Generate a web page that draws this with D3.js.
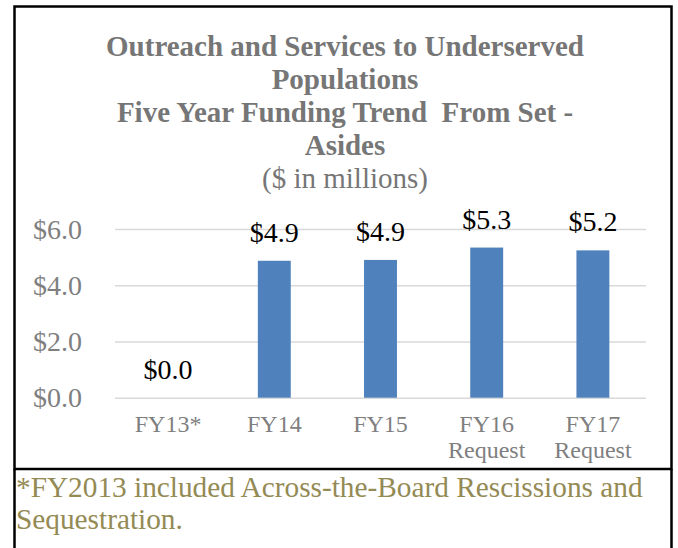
<!DOCTYPE html>
<html>
<head>
<meta charset="utf-8">
<script src="https://cdn.jsdelivr.net/npm/d3@7"></script>
<style>
  body { margin: 0; background: #fff; }
  svg { display: block; font-family: "Liberation Serif", "Times New Roman", serif; }
</style>
</head>
<body>
<svg></svg>
<script>
var width = 678;
var height = 548;

// data
var categories = ["FY13*", "FY14", "FY15", "FY16\nRequest", "FY17\nRequest"];
var values = [0, 4.87, 4.9, 5.34, 5.24];
var valueLabels = ["$0.0", "$4.9", "$4.9", "$5.3", "$5.2"];
var yTicks = [0, 2, 4, 6];
var titleLines = ["Outreach and Services to Underserved", "Populations", "Five Year Funding Trend  From Set -", "Asides"];
var subtitle = "($ in millions)";
var footnoteLines = ["*FY2013 included Across-the-Board Rescissions and", "Sequestration."];

var svg = d3.select("svg")
    .attr("width", width)
    .attr("height", height);

var xScale = d3.scaleBand()
    .domain(categories)
    .range([115, 646])
    .paddingInner(0.69)
    .paddingOuter(0.345);

var yScale = d3.scaleLinear()
    .domain([0, 6])
    .range([397.7, 229]);

// frame
svg.append("rect")
    .attr("x", 14.5).attr("y", 6.5)
    .attr("width", 657).attr("height", 462.5)
    .attr("fill", "none")
    .attr("stroke", "#000")
    .attr("stroke-width", 2.5);

svg.append("path")
    .attr("d", "M14.5,469 V" + (height + 2) + " M671.5,469 V" + (height + 2))
    .attr("fill", "none")
    .attr("stroke", "#000")
    .attr("stroke-width", 2.5);

// title
var title = svg.append("g").attr("fill", "#767676").style("text-anchor", "middle");
title.selectAll("text.t")
  .data(titleLines)
  .enter()
  .append("text")
    .attr("class", "t")
    .attr("x", 345)
    .attr("y", (d, i) => 56 + i * 33)
    .style("font-size", "29px")
    .style("font-weight", "bold")
    .style("white-space", "pre")
    .text(d => d);

title.append("text")
    .attr("x", 345)
    .attr("y", 56 + 4 * 33)
    .style("font-size", "29px")
    .text(subtitle);

// grid + y axis
var yAxis = d3.axisLeft(yScale)
    .tickValues(yTicks)
    .tickSize(-(646 - 115))
    .tickSizeOuter(0)
    .tickPadding(33)
    .tickFormat(d => "$" + d3.format(".1f")(d));

var gy = svg.append("g")
    .attr("transform", "translate(115,0)")
    .call(yAxis);

gy.select(".domain").remove();
gy.selectAll(".tick line")
    .attr("stroke", "#d9d9d9")
    .attr("stroke-width", 1.5);
gy.selectAll(".tick text")
    .attr("fill", "#7f7f7f")
    .attr("dy", "0.33em")
    .style("font-family", "Liberation Serif, Times New Roman, serif")
    .style("font-size", "28px");

// bars
svg.selectAll("rect.bar")
  .data(values)
  .enter()
  .append("rect")
    .attr("class", "bar")
    .attr("x", (d, i) => xScale(categories[i]))
    .attr("y", d => yScale(d))
    .attr("width", xScale.bandwidth())
    .attr("height", d => yScale(0) - yScale(d))
    .attr("fill", "#4f81bd");

// value labels
svg.selectAll("text.val")
  .data(values)
  .enter()
  .append("text")
    .attr("class", "val")
    .attr("x", (d, i) => xScale(categories[i]) + xScale.bandwidth() / 2)
    .attr("y", d => yScale(d) - 19)
    .style("text-anchor", "middle")
    .style("font-size", "28px")
    .attr("fill", "#000")
    .text((d, i) => valueLabels[i]);

// x labels
var xl = svg.selectAll("text.cat")
  .data(categories)
  .enter()
  .append("text")
    .attr("class", "cat")
    .attr("x", d => xScale(d) + xScale.bandwidth() / 2)
    .attr("y", 432)
    .style("text-anchor", "middle")
    .style("font-size", "24px")
    .attr("fill", "#7f7f7f");

xl.selectAll("tspan")
  .data(d => d.split("\n"))
  .enter()
  .append("tspan")
    .attr("x", function() { return d3.select(this.parentNode).attr("x"); })
    .attr("dy", (d, i) => i === 0 ? 0 : 26)
    .text(d => d);

// footnote
svg.selectAll("text.note")
  .data(footnoteLines)
  .enter()
  .append("text")
    .attr("class", "note")
    .attr("x", 16)
    .attr("y", (d, i) => 497 + i * 31.5)
    .style("font-size", "29.3px")
    .attr("fill", "#948a54")
    .text(d => d);
</script>
</body>
</html>
